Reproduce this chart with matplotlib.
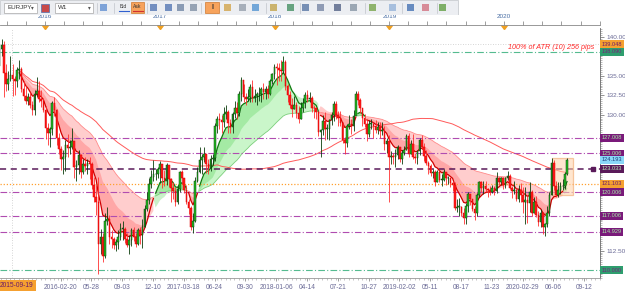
import numpy as np
import pandas as pd
import matplotlib
matplotlib.use("Agg")
import matplotlib.pyplot as plt
import matplotlib.dates as mdates
from matplotlib.patches import Rectangle
from matplotlib.transforms import blended_transform_factory

plt.rcParams['font.family'] = ['Liberation Sans', 'DejaVu Sans']

# ---------------- data ----------------
symbol = "EURJPY"
timeframe = "W1"
first_week = "2015-08-09"
first_open = 136.3

# weekly (high, low, close)
hlc_2015 = [(139.0, 135.9, 138.4), (139.8, 137.5, 139.0), (139.5, 132.3, 135.4), (136.5, 133.0, 134.0),
            (135.6, 133.2, 134.6), (137.5, 134.3, 135.1), (136.5, 132.4, 134.6), (135.0, 132.5, 134.3),
            (136.2, 133.6, 135.8), (137.0, 134.6, 135.9), (136.2, 132.9, 133.3), (134.3, 131.9, 132.4),
            (133.7, 131.4, 131.8), (132.8, 131.2, 132.3), (132.9, 130.8, 131.3), (131.7, 130.0, 130.6),
            (133.2, 129.9, 132.7), (134.8, 132.3, 133.1), (134.4, 131.6, 132.0), (133.2, 131.0, 131.8),
            (132.2, 130.3, 130.6)]
hlc_2016 = [(131.1, 126.9, 128.3), (128.9, 126.1, 127.7), (128.4, 125.9, 128.2), (131.8, 127.4, 131.5),
            (132.3, 129.8, 130.6), (130.7, 126.1, 127.0), (127.6, 124.9, 125.6), (126.0, 122.9, 124.3),
            (125.5, 122.4, 124.6), (126.8, 122.8, 126.1), (127.5, 124.6, 125.7), (126.7, 125.0, 125.9),
            (128.3, 125.6, 126.6), (126.6, 121.8, 123.3), (124.1, 121.5, 123.5), (125.5, 122.3, 124.8),
            (125.0, 121.8, 122.6), (124.3, 122.3, 123.6), (124.5, 122.8, 123.4), (124.3, 122.4, 123.8),
            (124.5, 121.7, 123.6), (123.9, 120.4, 121.0), (122.0, 118.8, 119.4), (121.0, 117.1, 118.7),
            (122.0, 109.5, 113.4), (115.3, 112.0, 114.3), (114.7, 111.0, 111.8), (117.4, 111.6, 116.3),
            (118.1, 115.8, 116.6), (117.1, 113.4, 114.3), (115.2, 112.8, 114.0), (114.3, 112.7, 113.2),
            (114.0, 112.4, 113.6), (115.2, 112.7, 114.3), (116.0, 113.9, 115.3), (116.3, 113.8, 115.3),
            (115.5, 113.5, 114.0), (114.8, 112.9, 113.2), (114.5, 112.0, 113.9), (115.4, 113.1, 115.1),
            (115.5, 113.7, 114.2), (114.8, 112.9, 113.3), (115.4, 113.2, 115.2), (115.6, 113.4, 114.5),
            (116.6, 112.8, 115.5), (118.4, 115.6, 117.8), (120.0, 117.6, 119.0), (121.8, 118.5, 121.1),
            (122.9, 120.5, 122.0), (124.1, 121.5, 122.3), (123.0, 121.6, 122.3), (123.3, 121.9, 123.0)]
hlc_2017 = [(124.0, 121.2, 123.6), (123.2, 120.6, 121.8), (122.9, 120.8, 121.4), (123.8, 121.0, 123.5),
            (123.5, 120.7, 121.7), (121.8, 118.8, 120.6), (121.3, 119.2, 120.2), (120.7, 118.2, 118.8),
            (120.8, 118.5, 120.4), (122.8, 120.1, 122.6), (122.9, 121.1, 121.8), (121.9, 119.9, 120.3),
            (121.0, 118.5, 118.8), (119.1, 117.2, 118.0), (118.2, 115.1, 115.5), (117.3, 114.8, 116.3),
            (122.0, 116.2, 121.4), (123.2, 121.3, 122.6), (125.8, 122.5, 124.2), (125.0, 122.3, 124.6),
            (125.8, 123.9, 124.9), (125.0, 122.5, 123.7), (124.3, 122.3, 123.1), (124.8, 122.7, 124.3),
            (124.9, 123.5, 124.4), (128.9, 124.0, 128.5), (129.8, 127.6, 129.5), (130.2, 128.1, 129.3),
            (130.0, 127.6, 129.1), (131.0, 128.4, 130.1), (131.2, 129.4, 130.4), (130.6, 127.6, 128.9),
            (129.4, 127.6, 128.4), (130.4, 127.6, 130.1), (131.7, 129.6, 130.9), (131.6, 129.4, 130.2),
            (133.0, 129.8, 132.6), (134.9, 131.8, 134.5), (134.0, 131.6, 132.3), (132.8, 131.3, 132.0),
            (133.3, 131.7, 132.3), (134.0, 131.6, 133.6), (134.5, 131.6, 132.2), (133.3, 131.6, 132.4),
            (132.9, 131.2, 132.6), (133.5, 131.8, 132.7), (133.6, 131.6, 133.3), (134.1, 132.0, 132.9),
            (133.7, 132.0, 133.3), (133.8, 132.1, 132.7), (134.6, 132.5, 134.4), (135.4, 134.0, 135.3)]
hlc_2018 = [(136.5, 134.6, 136.1), (136.7, 133.8, 136.0), (136.6, 134.4, 135.8), (137.0, 134.4, 135.6),
            (137.5, 135.4, 136.8), (137.0, 133.2, 133.7), (134.0, 131.6, 132.5), (133.0, 130.9, 131.3),
            (132.1, 129.7, 130.7), (132.4, 130.7, 131.3), (131.6, 129.6, 130.2), (131.1, 128.9, 129.4),
            (131.6, 129.4, 130.8), (132.2, 130.4, 131.5), (132.9, 130.8, 132.5), (133.2, 131.6, 132.0),
            (132.9, 131.6, 132.1), (132.4, 130.3, 130.9), (131.2, 129.6, 130.8), (131.0, 129.5, 130.4),
            (130.5, 127.3, 127.8), (128.2, 124.6, 128.0), (130.0, 127.4, 129.2), (130.4, 126.7, 128.2),
            (128.8, 126.9, 128.2), (129.5, 126.7, 129.3), (130.3, 128.7, 130.0), (131.7, 129.2, 131.4),
            (131.8, 129.5, 129.9), (130.5, 128.6, 129.6), (130.5, 128.5, 128.9), (129.0, 126.4, 126.7),
            (127.1, 124.9, 126.3), (128.8, 125.9, 128.5), (130.0, 128.1, 128.8), (129.5, 127.5, 128.6),
            (130.6, 127.9, 129.8), (133.1, 129.9, 132.7), (133.1, 131.2, 131.9), (132.2, 130.2, 130.8),
            (130.9, 128.6, 129.6), (130.1, 128.4, 128.8), (129.3, 126.6, 127.5), (129.3, 127.1, 128.8),
            (129.5, 128.1, 128.8), (129.0, 127.0, 128.5), (129.3, 127.6, 128.0), (129.0, 127.5, 128.4),
            (129.0, 127.0, 127.9), (129.1, 127.4, 127.9), (128.6, 125.5, 126.2), (127.0, 125.1, 126.6)]
hlc_2019 = [(127.4, 118.7, 124.6), (125.3, 123.6, 124.7), (125.1, 123.6, 124.5), (125.6, 123.2, 124.8),
            (126.1, 124.3, 125.9), (125.8, 123.9, 124.3), (125.4, 123.7, 125.1), (126.0, 124.8, 125.4),
            (127.5, 125.4, 127.3), (127.6, 124.5, 125.0), (126.8, 124.9, 126.2), (127.5, 124.3, 124.5),
            (125.1, 123.8, 124.4), (125.5, 123.7, 125.3), (127.0, 124.8, 126.8), (127.4, 125.6, 125.9),
            (126.3, 124.0, 124.7), (125.4, 123.5, 123.8), (124.0, 122.4, 123.4), (123.6, 122.1, 122.5),
            (123.0, 121.8, 122.6), (122.9, 120.8, 121.3), (122.9, 121.3, 122.6), (122.9, 121.3, 121.6),
            (122.4, 120.8, 121.6), (123.0, 121.5, 122.6), (122.6, 121.0, 121.8), (122.1, 121.1, 121.9),
            (121.9, 120.7, 121.2), (121.4, 120.2, 121.0), (121.3, 117.7, 118.0), (119.1, 117.5, 118.1),
            (119.3, 116.9, 118.1), (118.3, 116.9, 117.4), (118.0, 115.9, 116.7), (118.6, 115.9, 118.3),
            (120.0, 117.5, 119.8), (119.8, 118.4, 119.1), (119.2, 117.6, 117.9), (118.3, 116.5, 117.3),
            (119.9, 116.9, 119.7), (121.5, 119.4, 121.3), (121.4, 120.0, 120.6), (121.5, 119.8, 120.8),
            (121.5, 120.0, 120.4), (120.6, 119.4, 120.3), (120.8, 119.6, 120.0), (121.0, 119.9, 120.5),
            (120.8, 119.6, 120.2), (122.6, 119.9, 121.8), (122.0, 121.0, 121.3), (122.0, 120.9, 121.9)]
hlc_2020 = [(122.0, 120.4, 121.0), (122.0, 120.6, 121.8), (122.8, 121.6, 122.1), (122.3, 120.4, 120.5),
            (120.8, 119.3, 120.2), (121.5, 119.8, 120.3), (120.3, 118.9, 119.1), (121.0, 118.7, 120.3),
            (121.2, 118.7, 119.7), (120.7, 117.4, 118.8), (120.7, 115.9, 119.0), (119.6, 116.1, 118.6),
            (121.3, 117.5, 120.1), (120.3, 116.9, 117.3), (119.4, 117.3, 118.8), (119.5, 116.8, 117.1),
            (117.6, 115.7, 116.2), (117.8, 115.6, 117.3), (117.5, 114.6, 115.6), (116.1, 114.4, 115.9),
            (118.2, 115.5, 117.3), (120.1, 117.0, 119.7), (124.4, 119.6, 123.8), (124.1, 120.3, 120.8),
            (121.4, 119.4, 119.6), (121.3, 119.4, 120.3), (121.3, 119.8, 120.8), (121.7, 120.3, 120.8),
            (122.6, 120.4, 122.3), (124.4, 122.2, 124.19)]

level_prices = [138.090, 127.008, 125.006, 123.033, 121.103, 120.006, 117.006, 114.929, 110.000]
level_kinds = ["green", "purple", "purple", "dark", "orange", "purple", "purple", "purple", "green"]
crosshair_price = 139.048
crosshair_date = "2015-09-19"
current_price = 124.193
atr_text = "100% of ATR (10) 256 pips"
box_dates = ["2020-06-01", "2020-08-07"]
box_prices = [119.6, 124.45]

tick_dates = ["2016-02-20", "2016-05-28", "2016-09-03", "2016-12-10", "2017-03-18",
              "2017-06-24", "2017-09-30", "2018-01-06", "2018-04-14", "2018-07-21", "2018-10-27",
              "2019-02-02", "2019-05-11", "2019-08-17", "2019-11-23", "2020-02-29", "2020-06-06",
              "2020-09-12"]
tick_labels = ["2016-02-20", "05-28", "09-03", "12-10", "2017-03-18", "06-24", "09-30",
               "2018-01-06", "04-14", "07-21", "10-27", "2019-02-02", "05-11", "08-17", "11-23",
               "2020-02-29", "06-06", "09-12"]
year_labels = ["2016", "2017", "2018", "2019", "2020"]
view_range = ["2015-08-11", "2020-11-01"]
price_range = [108.97, 141.16]

# ---------------- derived series ----------------
hlc = np.array(hlc_2015 + hlc_2016 + hlc_2017 + hlc_2018 + hlc_2019 + hlc_2020)
high, low, close = hlc[:, 0], hlc[:, 1], hlc[:, 2]
open_ = np.r_[first_open, close[:-1]]
dates = pd.date_range(first_week, periods=len(close), freq="7D")
x = mdates.date2num(dates)

s = pd.Series(close)
fast = s.ewm(span=8).mean().values
mid = s.ewm(span=21).mean().values
slow = s.ewm(span=50).mean().values
longma = s.rolling(100, min_periods=1).mean().values
warm = 9
for arr in (fast, mid, slow, longma):
    arr[:warm] = np.nan
bull = fast >= slow

# ---------------- figure ----------------
W, H = 625, 300
fig = plt.figure(figsize=(W / 100, H / 100), dpi=100)
fig.patch.set_facecolor("white")
ax = fig.add_axes([0, 22 / H, 600 / W, 250 / H])
ax.set_facecolor("white")

# bands
ax.fill_between(x, fast, slow, where=bull, color="#a8f0a8", alpha=0.6, lw=0, interpolate=True, zorder=1)
ax.fill_between(x, fast, slow, where=~bull, color="#ffadad", alpha=0.6, lw=0, interpolate=True, zorder=1)
ax.fill_between(x, fast, mid, where=bull, color="#4fcf4f", alpha=0.3, lw=0, interpolate=True, zorder=1.1)
ax.fill_between(x, fast, mid, where=~bull, color="#ff5050", alpha=0.3, lw=0, interpolate=True, zorder=1.1)
ax.plot(x, np.where(bull, slow, np.nan), color="#7ccf7c", lw=0.6, zorder=1.2)
ax.plot(x, np.where(~bull, slow, np.nan), color="#ff8a8a", lw=0.6, zorder=1.2)
ax.plot(x, longma, color="#ff5a5a", lw=0.7, zorder=1.3)

# levels
level_style = {
    "green": dict(color="#55bb90", ls=(0, (6, 2, 1, 2)), lw=0.8),
    "purple": dict(color="#b04cb0", ls=(0, (6, 2, 1, 2)), lw=0.8),
    "dark": dict(color="#5a1a5a", ls=(0, (4, 3)), lw=1.1),
    "orange": dict(color="#ffa030", ls=(0, (1, 1.5)), lw=0.9),
}
for p, k in zip(level_prices, level_kinds):
    ax.axhline(p, zorder=1.5, **level_style[k])
ax.axhline(crosshair_price, color="#c8c8c8", ls=(0, (1, 2)), lw=0.6, zorder=1.4)
cross_x = mdates.date2num(pd.Timestamp(crosshair_date))
ax.axvline(cross_x, color="#c8c8c8", ls=(0, (1, 2)), lw=0.6, zorder=1.4)

# orange box
bx = mdates.date2num(pd.to_datetime(box_dates))
ax.add_patch(Rectangle((bx[0], box_prices[0]), bx[1] - bx[0], box_prices[1] - box_prices[0],
                       facecolor="#ffd2a8", edgecolor="#f0a060", alpha=0.55, lw=0.9, zorder=1.6))

# fast ma line
ax.plot(x, np.where(bull, fast, np.nan), color="#107a10", lw=0.9, zorder=2)
ax.plot(x, np.where(~bull, fast, np.nan), color="#d00000", lw=0.9, zorder=2)

# candles
up = close >= open_
wick_col = np.where(up, "#0b3d0b", "#ff3030")
ax.vlines(x, low, high, colors=wick_col, lw=0.6, zorder=3)
body_col = np.where(up, "#22bb22", "#ff1c1c")
edge_col = np.where(up, "#0b3d0b", "#e00000")
bh = np.maximum(np.abs(close - open_), 0.08)
ax.bar(x, bh, bottom=np.minimum(open_, close), width=4.8, color=body_col, edgecolor=edge_col,
       lw=0.35, zorder=3.2)

# end marker on dark level
tr = blended_transform_factory(ax.transAxes, ax.transData)
ax.plot([0.988], [level_prices[3]], marker="s", ms=2.2, color="#5a1a5a",
        transform=tr, clip_on=False, zorder=4)

# ATR text
ax.text(0.99, 138.62, atr_text, transform=tr, ha="right", va="center", color="#ff2a2a",
        fontsize=5.2, style="italic", zorder=5)

# axes limits & ticks
ax.set_xlim(mdates.date2num(pd.to_datetime(view_range)))
ax.set_ylim(*price_range)
ax.yaxis.tick_right()
box_levels = level_prices + [crosshair_price, current_price]
major = [v for v in np.arange(110, 141, 2.5) if min(abs(v - b) for b in box_levels) > 0.9]
ax.set_yticks(major)
ax.set_yticks(np.arange(109, 141.1, 0.25), minor=True)
ax.yaxis.set_major_formatter(matplotlib.ticker.FormatStrFormatter("%.2f"))
ax.tick_params(axis="y", which="major", labelsize=4.6, labelcolor="#6a6a96", color="#666666",
               length=3, width=0.5, pad=1.5)
ax.tick_params(axis="y", which="minor", color="#888888", length=1.5, width=0.4)
tdn = mdates.date2num(pd.to_datetime(tick_dates))
ax.set_xticks(tdn)
ax.set_xticklabels(tick_labels)
ax.tick_params(axis="x", labelsize=4.8, labelcolor="#6a6a96", color="#777777", length=2, width=0.5, pad=2.5)
ax.set_xticks(mdates.date2num(pd.date_range("2015-08-15", "2020-11-01", freq="14D")), minor=True)
ax.tick_params(axis="x", which="minor", length=1.2, width=0.4, color="#999999")
# crosshair date label (left edge)
ax.text(0.0, -0.016, crosshair_date, transform=ax.transAxes, ha="left", va="top", fontsize=4.8,
        color="#6a1a6a", bbox=dict(boxstyle="square,pad=0.3", facecolor="#f5a030", edgecolor="none"),
        clip_on=False, zorder=6)
for sp in ("left", "top"):
    ax.spines[sp].set_visible(False)
ax.spines["right"].set_color("#666666")
ax.spines["right"].set_linewidth(0.6)
ax.spines["bottom"].set_color("#999999")
ax.spines["bottom"].set_linewidth(0.6)

# price label boxes
box_style = {
    "green": ("#2e9e6e", "#7a1f7a"),
    "purple": ("#7a1a7a", "#a8eca8"),
    "dark": ("#5a1a5a", "#b9f0b9"),
    "orange": ("#f5a030", "#6a1a6a"),
}


def price_box(p, fc, tc, txt):
    ax.text(1.003, p, txt, transform=tr, ha="left", va="center", fontsize=4.1, color=tc,
            bbox=dict(boxstyle="square,pad=0.25", facecolor=fc, edgecolor="none"),
            clip_on=False, zorder=6)


for p, k in zip(level_prices, level_kinds):
    fc, tc = box_style[k]
    price_box(p, fc, tc, f"{p:.3f}")
price_box(crosshair_price, "#f5a030", "#6a1a6a", f"{crosshair_price:.3f}")
price_box(current_price, "#8ad8f8", "#1a3a7a", f"{current_price:.3f}")

# ---------------- top time ruler ----------------
axt = fig.add_axes([0, (H - 25) / H, 600 / W, 1e-4])
axt.set_xlim(ax.get_xlim())
axt.set_ylim(0, 1)
for sp in ("left", "right", "bottom"):
    axt.spines[sp].set_visible(False)
axt.spines["top"].set_color("#888888")
axt.spines["top"].set_linewidth(0.6)
axt.xaxis.tick_top()
axt.set_yticks([])
ydn = mdates.date2num(pd.to_datetime([f"{y}-01-01" for y in year_labels]))
axt.set_xticks(ydn)
axt.set_xticklabels(year_labels)
axt.set_xticks(mdates.date2num(pd.date_range("2015-09-01", "2020-11-01", freq="2MS")), minor=True)
axt.tick_params(axis="x", which="major", labelsize=4.6, labelcolor="#4a6fa5", color="#777777",
                length=3, width=0.5, pad=1.2)
axt.tick_params(axis="x", which="minor", color="#777777", length=3, width=0.5)
axt.plot(ydn, np.zeros(len(ydn)), ls="none", marker=11, ms=4.2, color="#f0a020", clip_on=False)

# ---------------- toolbar ----------------
axb = fig.add_axes([0, (H - 15) / H, 1, 15 / H])
axb.set_xlim(0, W)
axb.set_ylim(15, 0)
axb.axis("off")
axb.add_patch(Rectangle((0, 0), 458, 15, facecolor="#eceef2", edgecolor="#c8cbd0", lw=0.6))
axb.add_patch(Rectangle((4, 2.5), 33, 10, facecolor="white", edgecolor="#a8a8a8", lw=0.5))
axb.text(7, 7.6, symbol, fontsize=4.5, va="center", color="#333333")
axb.text(32, 7.6, "▾", fontsize=4, va="center", ha="center", color="#555555")
axb.add_patch(Rectangle((41, 3.5), 8, 8, facecolor="#c84a4a", edgecolor="#5070b0", lw=0.5))
axb.add_patch(Rectangle((55, 2.5), 38, 10, facecolor="white", edgecolor="#a8a8a8", lw=0.5))
axb.text(58, 7.6, timeframe, fontsize=4.5, va="center", color="#333333")
axb.text(89, 7.6, "▾", fontsize=4, va="center", ha="center", color="#555555")
icon_x = [103, 153, 168, 180, 193, 227, 242, 255, 273, 290, 305, 320, 337, 353, 372, 392, 410, 425, 442]
icon_c = ["#5a8ad0", "#4a6fb0", "#4a6fb0", "#6a7fa0", "#7a8aa0", "#d0a040", "#909aa8", "#4a90d0",
          "#c0a040", "#3a8a5a", "#5070a0", "#7080a0", "#4a5a80", "#8090a0", "#70a040", "#90b0d8",
          "#3a6ab0", "#d06a7a", "#5a9a3a"]
for ix, ic in zip(icon_x, icon_c):
    axb.add_patch(Rectangle((ix - 3.5, 4), 7, 7, facecolor=ic, edgecolor="none", alpha=0.75))
axb.add_patch(Rectangle((117, 2), 13, 11, facecolor="#eceef2", edgecolor="none"))
axb.text(123.5, 7, "Bid", fontsize=3.6, ha="center", va="center", color="#333333")
axb.plot([118.5, 128.5], [10.5, 10.5], color="#3060d0", lw=0.8)
axb.add_patch(Rectangle((131, 2), 13, 11, facecolor="#f7a35c", edgecolor="#d07a30", lw=0.5))
axb.text(137.5, 7, "Ask", fontsize=3.6, ha="center", va="center", color="#333333")
axb.plot([132.5, 142.5], [10.5, 10.5], color="#d03030", lw=0.8)
axb.add_patch(Rectangle((205, 2), 14, 11, facecolor="#f7a35c", edgecolor="#d07a30", lw=0.5))
axb.text(212, 7.5, "I", fontsize=5, ha="center", va="center", color="#333333", fontweight="bold")
for sx in (97, 114, 147, 201, 266, 300, 365, 402, 437):
    axb.plot([sx, sx], [2.5, 12.5], color="#c0c4ca", lw=0.5)

fig.savefig("out.png", dpi=100, facecolor="white")
